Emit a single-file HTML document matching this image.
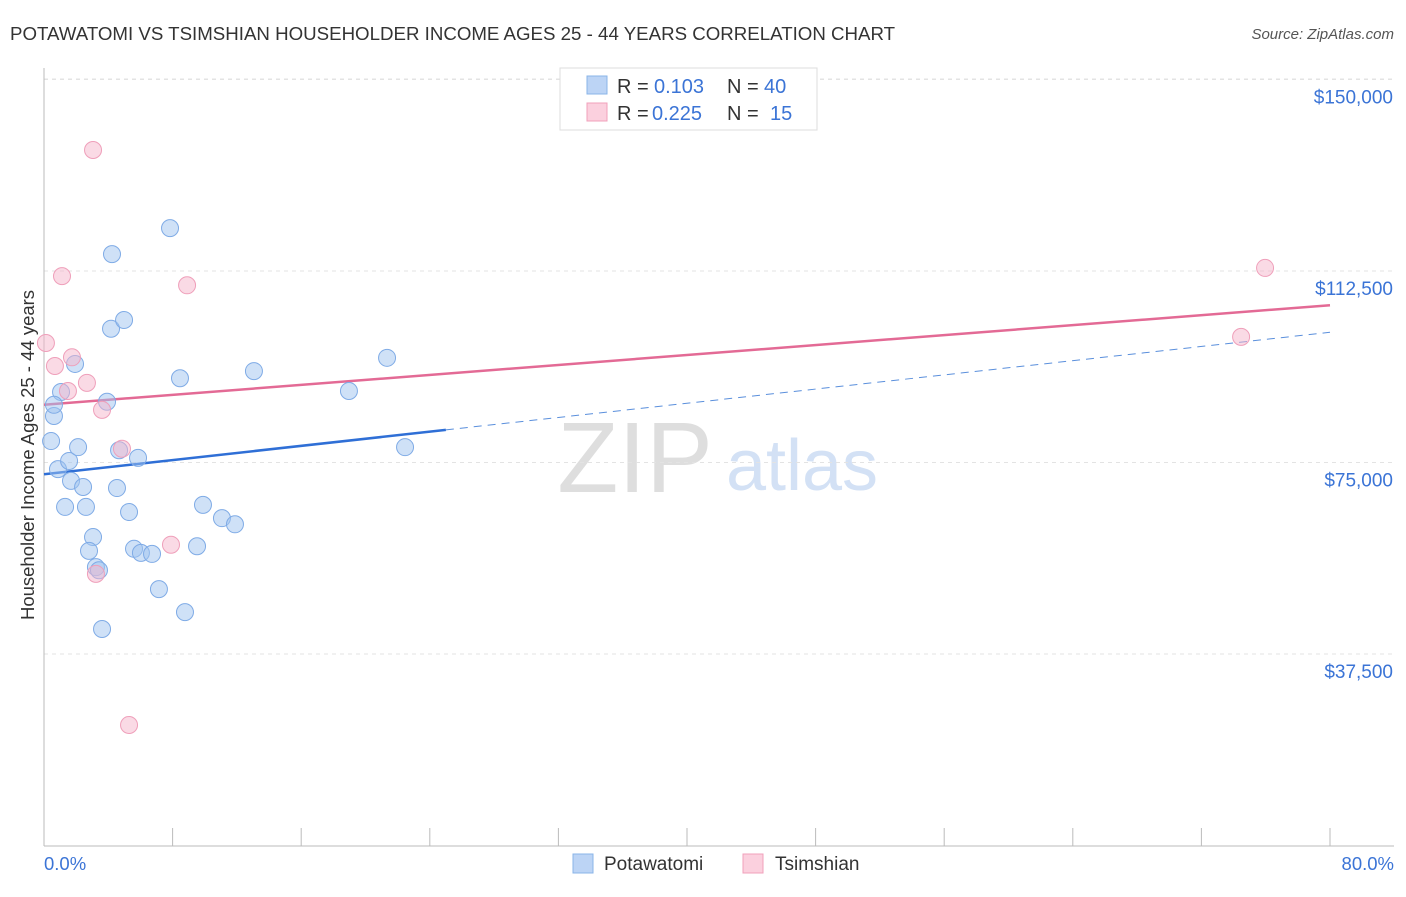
<!DOCTYPE html>
<html><head><meta charset="utf-8"><style>
body{margin:0;background:#fff;font-family:"Liberation Sans",sans-serif;}
svg text{font-family:"Liberation Sans",sans-serif;}
</style></head><body>
<svg id="chart" width="1406" height="892" xmlns="http://www.w3.org/2000/svg">
<text x="10" y="40" font-size="18.7" fill="#333">POTAWATOMI VS TSIMSHIAN HOUSEHOLDER INCOME AGES 25 - 44 YEARS CORRELATION CHART</text>
<text x="1394" y="39" font-size="15" fill="#555" text-anchor="end" font-style="italic">Source: ZipAtlas.com</text>
<text x="635" y="492" font-size="100" fill="#dedede" font-family="Liberation Serif" text-anchor="middle">ZIP</text>
<text x="802" y="490" font-size="72" fill="#d3e1f5" text-anchor="middle">atlas</text>
<g id="grid"></g><g id="axes"></g><g id="lines"></g><g id="pts"></g>
<text transform="translate(34,455) rotate(-90)" font-size="18.5" fill="#333" text-anchor="middle">Householder Income Ages 25 - 44 years</text>
<text x="44" y="870" font-size="18.5" fill="#3b74d6">0.0%</text>
<text x="1394" y="870" font-size="18.5" fill="#3b74d6" text-anchor="end">80.0%</text>
<g>
<rect x="560" y="68" width="257" height="62" fill="#fff" stroke="#ddd"/>
<rect x="587" y="76" width="20" height="18" fill="#bcd4f5" stroke="#8ab4e8"/>
<text x="617" y="93" font-size="20" fill="#333">R =</text>
<text x="654" y="93" font-size="20" fill="#3b74d6">0.103</text>
<text x="727" y="93" font-size="20" fill="#333">N =</text>
<text x="764" y="93" font-size="20" fill="#3b74d6">40</text>
<rect x="587" y="103" width="20" height="18" fill="#fbd0de" stroke="#f0a0bb"/>
<text x="617" y="120" font-size="20" fill="#333">R =</text>
<text x="652" y="120" font-size="20" fill="#3b74d6">0.225</text>
<text x="727" y="120" font-size="20" fill="#333">N =</text>
<text x="770" y="120" font-size="20" fill="#3b74d6">15</text>
</g>
<g>
<rect x="573" y="854" width="20" height="19" fill="#bcd4f5" stroke="#8ab4e8"/>
<text x="604" y="870" font-size="19" fill="#333">Potawatomi</text>
<rect x="743" y="854" width="20" height="19" fill="#fbd0de" stroke="#f0a0bb"/>
<text x="775" y="870" font-size="19" fill="#333">Tsimshian</text>
</g>
</svg>
<script>
const yTicks=[37500,75000,112500,150000];
const yTickLabels=["$37,500","$75,000","$112,500","$150,000"];
const xTicks=[0,8,16,24,32,40,48,56,64,72,80];
const blueX=[1.06,0.62,0.44,0.87,1.56,1.68,2.43,1.31,2.61,2.12,1.93,4.23,7.84,4.17,4.98,3.92,4.67,5.85,4.54,5.29,3.05,2.80,5.60,6.03,6.72,3.23,3.42,7.15,3.61,8.77,9.52,9.89,11.07,11.88,8.46,13.06,18.97,21.34,22.46,0.62];
const blueY=[88800,84100,79200,73700,75300,71400,70200,66300,66300,78000,94300,115800,120900,101200,102900,86900,77400,75900,70000,65300,60400,57700,58100,57300,57100,54500,53900,50200,42400,45700,58600,66700,64100,62900,91500,92900,89000,95500,78000,86300];
const pinkX=[3.05,1.12,8.90,0.12,0.68,1.74,1.49,2.67,3.61,4.85,3.23,7.90,5.29,75.96,74.47];
const pinkY=[136200,111500,109700,98400,93900,95600,89000,90600,85300,77700,53200,58900,23600,113100,99600];
const blueLine=[72700,100500];
const pinkLine=[86300,105800];
const blueSolidEnd=25;
const NS="http://www.w3.org/2000/svg";
const sx=v=>44+v/80*1286;
const sy=v=>845.5-v/37500*191.5;
function mk(t,a,p){const e=document.createElementNS(NS,t);for(const k in a)e.setAttribute(k,a[k]);p.appendChild(e);return e;}
const grid=document.getElementById('grid'),axes=document.getElementById('axes'),lines=document.getElementById('lines'),pts=document.getElementById('pts');
yTicks.forEach((t,i)=>{
 const l=mk('line',{x1:44,x2:1394,y1:sy(t),y2:sy(t),stroke:'#e3e3e3','stroke-dasharray':'4,4'},grid);
 
 
 const tx=mk('text',{x:1393,y:sy(t)+24,'font-size':19,fill:'#3b74d6','text-anchor':'end'},grid);
 tx.textContent=yTickLabels[i];
 
 
});
const topG=mk('line',{x1:44,x2:1394,y1:79,y2:79,stroke:'#e3e3e3','stroke-dasharray':'4,4'},grid);


const ya=mk('line',{x1:44,x2:44,y1:68,y2:846,stroke:'#bbb'},axes);


const xa=mk('line',{x1:44,x2:1394,y1:846,y2:846,stroke:'#bbb'},axes);


xTicks.forEach(t=>{
 const l=mk('line',{x1:sx(t),x2:sx(t),y1:828,y2:846,stroke:'#bbb'},axes);
 
 
});
const bs=mk('line',{x1:sx(0),y1:sy(blueLine[0]),x2:sx(blueSolidEnd),y2:sy(blueLine[0]+(blueLine[1]-blueLine[0])*blueSolidEnd/80),stroke:'#2f6fd6','stroke-width':2.5},lines);


const bd=mk('line',{x1:sx(blueSolidEnd),y1:sy(blueLine[0]+(blueLine[1]-blueLine[0])*blueSolidEnd/80),x2:sx(80),y2:sy(blueLine[1]),stroke:'#5a8fdc','stroke-width':1,'stroke-dasharray':'8,6'},lines);


const pl=mk('line',{x1:sx(0),y1:sy(pinkLine[0]),x2:sx(80),y2:sy(pinkLine[1]),stroke:'#e36a95','stroke-width':2.5},lines);


blueX.forEach((x,i)=>{
 const c=mk('circle',{cx:sx(x),cy:sy(blueY[i]),r:8.5,fill:'rgba(160,196,240,0.5)',stroke:'#7fabe6','stroke-width':1},pts);
 
 
});
pinkX.forEach((x,i)=>{
 const c=mk('circle',{cx:sx(x),cy:sy(pinkY[i]),r:8.5,fill:'rgba(246,182,204,0.5)',stroke:'#ef9fba','stroke-width':1},pts);
 
 
});
</script>
</body></html>
